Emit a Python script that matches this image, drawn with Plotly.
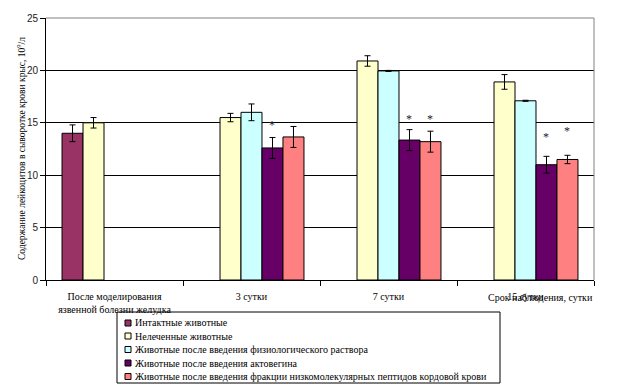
import plotly.graph_objects as go

categories = ["После моделирования<br>язвенной болезни желудка", "3 сутки", "7 сутки", "15 сутки"]
series_names = [
    "Интактные животные",
    "Нелеченные животные",
    "Животные после введения физиологического раствора",
    "Животные после введения актовегина",
    "Животные после введения фракции низкомолекулярных пептидов кордовой крови",
]
series_colors = ["#993366", "#FFFFCC", "#CCFFFF", "#660066", "#FF8080"]

intact = [14.0, None, None, None]
untreated = [15.0, 15.5, 20.9, 18.9]
saline = [None, 16.0, 19.95, 17.1]
actovegin = [None, 12.6, 13.35, 11.0]
peptides = [None, 13.65, 13.2, 11.5]

intact_err = [0.8, 0, 0, 0]
untreated_err = [0.5, 0.4, 0.5, 0.7]
saline_err = [0, 0.8, 0.05, 0.05]
actovegin_err = [0, 1.0, 1.0, 0.8]
peptides_err = [0, 1.0, 1.0, 0.4]

# significance stars: (category index, series index, y)
star_cat = [1, 2, 2, 3, 3]
star_series = [3, 3, 4, 3, 4]
star_y = [14.8, 15.4, 15.4, 13.6, 14.2]

y_ticks = [0, 5, 10, 15, 20, 25]
y_title = "Содержание лейкоцитов в сыворотке крови крыс, 10<sup>9</sup>/л"
x_title = "Срок наблюдения, сутки"

values = [intact, untreated, saline, actovegin, peptides]
errors = [intact_err, untreated_err, saline_err, actovegin_err, peptides_err]

W, H = 622, 387
ML, MR, MT, MB = 46, 28, 18, 107
PW = W - ML - MR
PH = H - MT - MB
BARGAP = 0.234

serif = "Liberation Serif, Times New Roman, serif"

fig = go.Figure()
for name, col, vals, errs in zip(series_names, series_colors, values, errors):
    fig.add_trace(go.Bar(
        x=categories, y=vals, name=name,
        marker=dict(color=col, line=dict(color="black", width=1)),
        error_y=dict(type="data", array=errs, color="black", thickness=1, width=3),
        showlegend=False,
    ))

def px_x(px):
    return (px - ML) / PW

def px_y(py):
    return (H - MB - py) / PH

# bar slot width in px, used to place stars over bars
cat_w = PW / len(categories)
slot_w = cat_w * (1 - BARGAP) / len(series_names)

annotations = []
for ci, si, yv in zip(star_cat, star_series, star_y):
    annotations.append(dict(
        x=categories[ci], y=yv, xref="x", yref="y", text="*", showarrow=False,
        xshift=(si - (len(series_names) - 1) / 2) * slot_w,
        font=dict(family=serif, size=12, color="#222233"), yanchor="middle",
    ))

annotations.append(dict(
    x=px_x(13), y=0.5, xref="paper", yref="paper", text=y_title, textangle=-90,
    showarrow=False, font=dict(family=serif, size=9.5, color="black"),
))
annotations.append(dict(
    x=px_x(595), y=px_y(297), xref="paper", yref="paper", text=x_title,
    showarrow=False, xanchor="right", yanchor="middle",
    font=dict(family=serif, size=10, color="black"),
))

shapes = []
# plot area grey top and right border
shapes.append(dict(type="line", xref="paper", yref="paper", x0=0, x1=1, y0=1, y1=1,
                   line=dict(color="#808080", width=1)))
shapes.append(dict(type="line", xref="paper", yref="paper", x0=1, x1=1, y0=0, y1=1,
                   line=dict(color="#808080", width=1)))

# legend box
shapes.append(dict(type="rect", xref="paper", yref="paper",
                   x0=px_x(117), x1=px_x(500), y0=px_y(383), y1=px_y(312),
                   line=dict(color="black", width=1), fillcolor="rgba(0,0,0,0)"))
row_y = [323, 336, 349.5, 363, 376.5]
for name, col, ry in zip(series_names, series_colors, row_y):
    shapes.append(dict(type="rect", xref="paper", yref="paper",
                       x0=px_x(125), x1=px_x(131), y0=px_y(ry + 3), y1=px_y(ry - 3),
                       line=dict(color="black", width=1), fillcolor=col))
    annotations.append(dict(
        x=px_x(133), y=px_y(ry), xref="paper", yref="paper", text=name,
        showarrow=False, xanchor="left", yanchor="middle",
        font=dict(family=serif, size=10, color="black"),
    ))

fig.update_layout(
    width=W, height=H,
    margin=dict(l=ML, r=MR, t=MT, b=MB),
    paper_bgcolor="white", plot_bgcolor="white",
    barmode="group", bargap=BARGAP, bargroupgap=0,
    annotations=annotations, shapes=shapes,
    showlegend=False,
)
fig.update_xaxes(
    type="category", showline=True, linecolor="black", linewidth=1,
    ticks="outside", tickson="boundaries", ticklen=5, tickcolor="black",
    ticklabelstandoff=7,
    tickfont=dict(family=serif, size=10, color="black"),
    showgrid=False, fixedrange=True,
)
fig.update_yaxes(
    range=[0, 25], tickvals=y_ticks, showline=True, linecolor="black", linewidth=1,
    ticks="outside", ticklen=5, tickcolor="black",
    tickfont=dict(family="Liberation Sans, Arial, sans-serif", size=10, color="#222"),
    showgrid=True, gridcolor="black", gridwidth=1, zeroline=False, fixedrange=True,
)

fig.write_html("out.html", config={"displayModeBar": False},
               post_script="document.body.style.margin='0';")
